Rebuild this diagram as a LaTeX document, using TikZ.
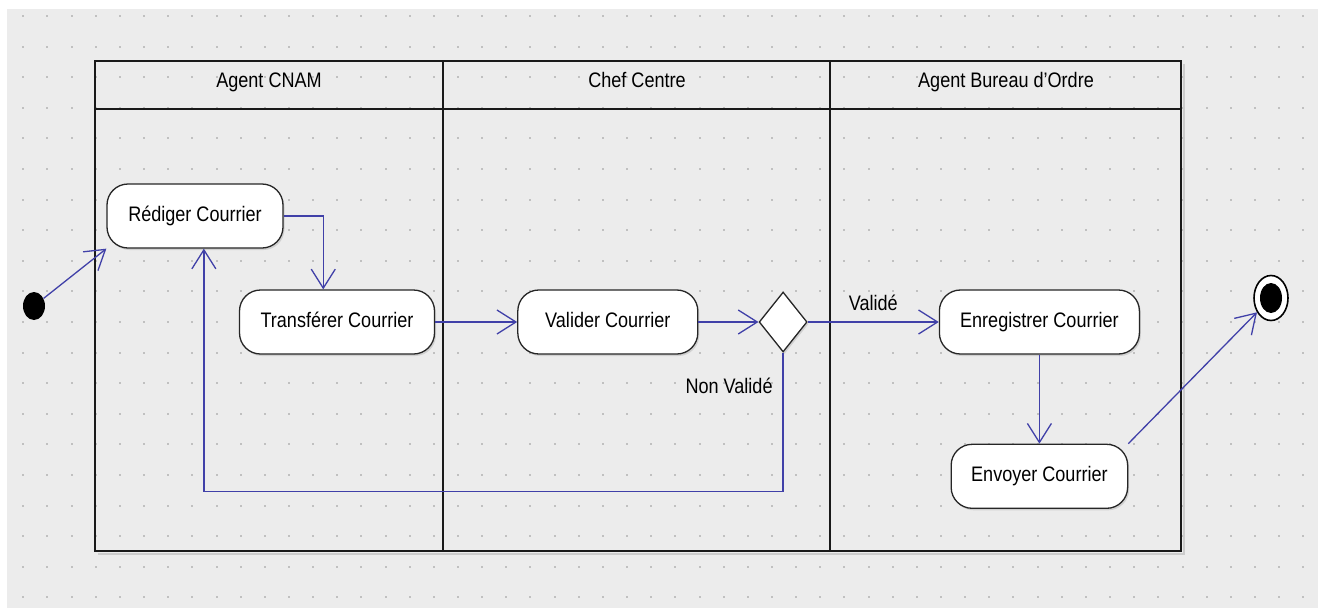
\documentclass[tikz,border=0pt]{standalone}
\usepackage{fontspec}
\setmainfont[FakeStretch=0.86]{Liberation Sans}
\usepackage{xcolor}
\usetikzlibrary{calc}
\usetikzlibrary{positioning}
\usetikzlibrary{arrows.meta}
\usetikzlibrary{shapes.geometric}
\usetikzlibrary{shadows}

\definecolor{umlblue}{RGB}{64,64,168}
\definecolor{paper}{RGB}{236,236,236}
\definecolor{griddot}{RGB}{192,192,192}

\begin{document}
\begin{tikzpicture}[x=1pt, y=-1pt, >={Straight Barb[length=19pt, width=24pt]}, font=\fontsize{21}{25}\selectfont]
    \tikzstyle{flow}=[->, draw=umlblue, line width=1.3pt]
    \tikzstyle{action}=[draw=black!85, fill=white, line width=1.3pt, rectangle, rounded corners=21pt, minimum height=64pt, inner xsep=20pt, text height=15pt, text depth=4pt, drop shadow={shadow xshift=1.5pt, shadow yshift=-2pt, opacity=0.25}]
    \tikzstyle{choice}=[draw=black!85, fill=white, line width=1.3pt, diamond, minimum width=48pt, minimum height=60pt, inner sep=0pt, drop shadow={shadow xshift=1.5pt, shadow yshift=-2pt, opacity=0.25}]
    \tikzstyle{start}=[ellipse, fill=black, minimum width=22pt, minimum height=28pt, inner sep=0pt]
    \tikzstyle{stop}=[ellipse, draw=black, line width=1.6pt, fill=white, minimum width=34pt, minimum height=45pt, inner sep=0pt]
    \tikzstyle{lane}=[draw=black!90, line width=1.5pt]

    \useasboundingbox (0,0) rectangle (1324,608);
    \fill[paper] (7,9) rectangle (1318,608);
    \foreach \i in {0,...,53}
        \foreach \j in {0,...,19}
            \fill[griddot] (22.3+24.15*\i, 15+30.6*\j) rectangle ++(2,2);

    %%%% swimlanes
    \draw[black!20, line width=2pt] (1184,64) -- (1184,554) -- (98,554);
    \draw[lane, line width=2pt] (95,61) rectangle (1181,551);
    \draw[lane] (95,109) -- (1181,109);
    \draw[lane] (443,61) -- (443,551);
    \draw[lane] (830,61) -- (830,551);

    \node[anchor=base] (cnam) at (269,87) {Agent CNAM};
    \node[anchor=base] (chef) at (637,87) {Chef Centre};
    \node[anchor=base] (bureau) at (1006,87) {Agent Bureau d'Ordre};

    %%%% activities
    \node[action, minimum width=176pt] (redig) at (195,216) {Rédiger Courrier};
    \node[action, minimum width=195pt] (transf) at (337,322) {Transférer Courrier};
    \node[action, right=82pt of transf, minimum width=180pt] (valid) {Valider Courrier};
    \node[choice, right=60pt of valid] (dec) {};
    \node[action, right=131pt of dec, minimum width=200pt] (enreg) {Enregistrer Courrier};
    \node[action, below=89pt of enreg, minimum width=174pt] (envoy) {Envoyer Courrier};
    \node[start] (init) at (34,306) {};
    \node[stop] (final) at (1271,298) {};
    \node[start, minimum height=30pt] (finalin) at (final) {};
    \coordinate (back) at ($(dec.south)+(0,139)$);

    \draw[flow] (init) -- (redig.south west);
    \draw[flow] (redig.east) -| ($(transf.north west)!0.43!(transf.north east)$);
    \draw[flow] (transf) -- (valid);
    \draw[flow] (valid) -- (dec);
    \draw[flow] (dec) -- (enreg);
    \draw[flow] (dec.south) -- (back) -| ($(redig.south west)!0.55!(redig.south east)$);
    \draw[flow] (enreg) -- (envoy);
    \draw[flow] (envoy.north east) -- (final);

    \node at ($(dec.east)!0.5!(enreg.west)+(0,-19)$) {Validé};
    \node[anchor=east] at ($(dec.south)+(-7,33)$) {Non Validé};

\end{tikzpicture}
\end{document}
